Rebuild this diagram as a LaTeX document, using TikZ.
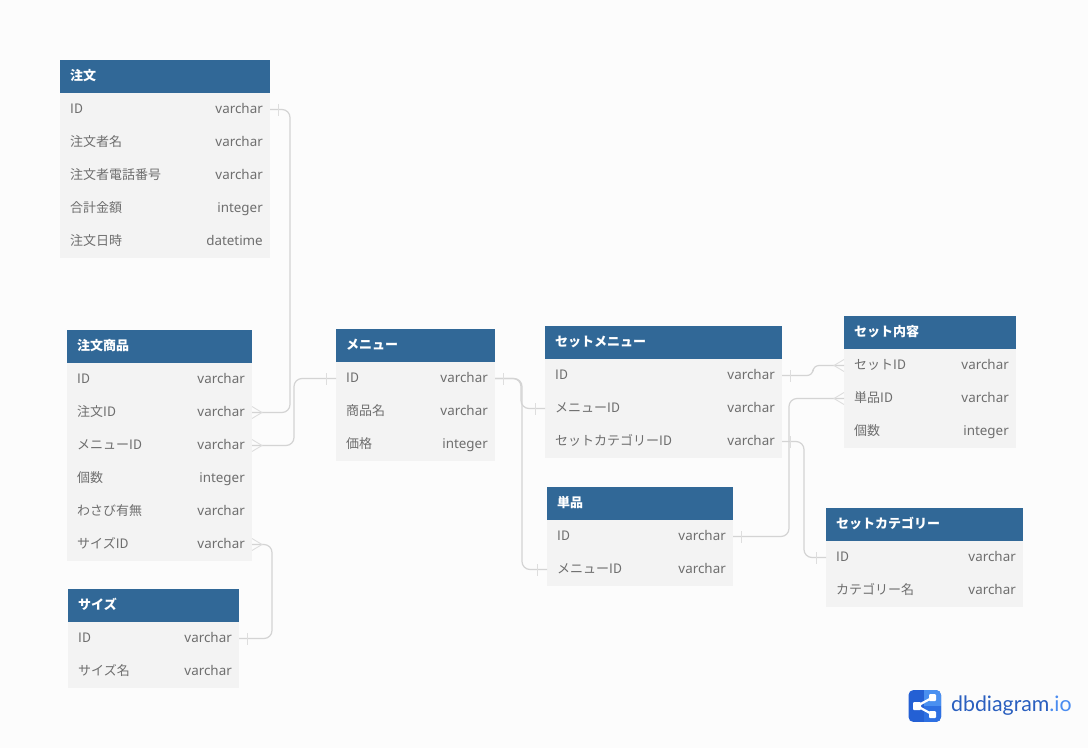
\documentclass[tikz,border=0pt]{standalone}
\usepackage{fontspec}
\setmainfont{Noto Sans CJK JP}
\newfontfamily\latinf{Noto Sans}
\newfontfamily\logof{Lato}
\usetikzlibrary{calc}
\definecolor{bgc}{HTML}{FCFCFC}
\definecolor{rowc}{HTML}{F3F3F3}
\definecolor{headc}{HTML}{316897}
\definecolor{txtc}{HTML}{6E6E6E}
\definecolor{linec}{HTML}{D4D4D4}
\definecolor{tickc}{HTML}{DEDEDE}
\definecolor{logoa}{HTML}{2460D4}
\definecolor{logob}{HTML}{4A90F0}
\definecolor{logoc}{HTML}{2E70E2}
\definecolor{logot}{HTML}{2A5FBF}
\definecolor{logou}{HTML}{4A8CF0}
\tikzset{
  hdr/.style={fill=headc,anchor=north west,minimum height=33pt,inner sep=0,outer sep=0,draw=none},
  rowbox/.style={fill=rowc,anchor=north west,minimum height=33pt,inner sep=0,outer sep=0,draw=none},
  ttl/.style={anchor=west,text=white,font=\fontsize{13}{13}\selectfont\bfseries,inner sep=0,text height=10pt,text depth=3pt},
  fname/.style={anchor=west,text=txtc,font=\fontsize{13}{13}\selectfont,inner sep=0,text height=10pt,text depth=3pt},
  ftype/.style={anchor=east,text=txtc,font=\fontsize{13.4}{14}\selectfont\latinf,inner sep=0,text height=10pt,text depth=3pt},
  conn/.style={draw=linec,line width=1.2pt,rounded corners=8pt},
  crowl/.style={draw=tickc,line width=0.9pt},
  tickl/.style={draw=tickc,line width=0.9pt},
}
% \tbl{id}{x}{y}{w}{title}{name/type list}
\newcommand{\tbl}[6]{%
  \node[hdr,minimum width=#4 pt] (#1) at (#2,#3) {};
  \node[ttl] (#1-t) at ($(#1.west)+(10,0)$) {#5};
  \foreach \nm/\ty [count=\ii] in {#6} {
    \node[rowbox,minimum width=#4 pt] (#1-\ii) at (#2,{#3+33*\ii}) {};
    \node[fname] (#1-\ii-n) at ($(#1-\ii.west)+(10,0)$) {\nm};
    \node[ftype] (#1-\ii-y) at ($(#1-\ii.east)+(-7,0)$) {\ty};
  }
}
\newcommand{\crowE}[1]{\draw[crowl] ([yshift=-6]#1.east) -- ([xshift=10]#1.east) -- ([yshift=6]#1.east);}
\newcommand{\crowW}[1]{\draw[crowl] ([yshift=-6]#1.west) -- ([xshift=-10]#1.west) -- ([yshift=6]#1.west);}
\newcommand{\tickE}[1]{\draw[tickl] ([xshift=8,yshift=-6]#1.east) -- ([xshift=8,yshift=6]#1.east);}
\newcommand{\tickW}[1]{\draw[tickl] ([xshift=-10,yshift=-6]#1.west) -- ([xshift=-10,yshift=6]#1.west);}
\begin{document}
\begin{tikzpicture}[x=1pt,y=-1pt]
\path[fill=bgc] (0,0) rectangle (1088,748);
\useasboundingbox (0,0) rectangle (1088,748);

\tbl{a}{60}{60}{210}{注文}{ID/varchar,注文者名/varchar,注文者電話番号/varchar,合計金額/integer,注文日時/datetime}
\tbl{b}{67}{330}{185}{注文商品}{ID/varchar,注文ID/varchar,メニューID/varchar,個数/integer,わさび有無/varchar,サイズID/varchar}
\tbl{c}{68}{589}{171}{サイズ}{ID/varchar,サイズ名/varchar}
\tbl{d}{336}{329}{159}{メニュー}{ID/varchar,商品名/varchar,価格/integer}
\tbl{e}{545}{326}{237}{セットメニュー}{ID/varchar,メニューID/varchar,セットカテゴリーID/varchar}
\tbl{f}{547}{487}{186}{単品}{ID/varchar,メニューID/varchar}
\tbl{g}{844}{316}{172}{セット内容}{セットID/varchar,単品ID/varchar,個数/integer}
\tbl{h}{826}{508}{197}{セットカテゴリー}{ID/varchar,カテゴリー名/varchar}

% connectors
\draw[conn] (a-1.east) -- ++(20,0) |- (b-2.east);
\draw[conn] (d-1.west) -- ++(-42,0) |- (b-3.east);
\draw[conn] (b-6.east) -- ++(20,0) |- (c-1.east);
\draw[conn] (d-1.east) -- ++(26,0) |- (e-2.west);
\draw[conn] (d-1.east) -- ++(27,0) |- (f-2.west);
\draw[conn,rounded corners=6pt] (e-1.east) -- ++(31,0) |- (g-1.west);
\draw[conn] (f-1.east) -- ++(56,0) |- (g-2.west);
\draw[conn] (e-3.east) -- ++(22,0) |- (h-1.west);

% end marks
\tickE{a-1}\crowE{b-2}
\tickW{d-1}\crowE{b-3}
\crowE{b-6}\tickE{c-1}
\tickE{d-1}\tickW{e-2}\tickW{f-2}
\tickE{e-1}\crowW{g-1}
\tickE{f-1}\crowW{g-2}
\tickE{e-3}\tickW{h-1}

% logo
\begin{scope}
\clip[rounded corners=5pt] (908.5,690) rectangle (941,722);
\fill[logoa] (908,690) rectangle (942,722);
\fill[logob] (923.5,690) rectangle (942,706);
\fill[logoc] (923.5,706) rectangle (942,722);
\end{scope}
\draw[white,line width=2.2pt] (917,706) -- (932.5,697.5) (917,706) -- (932.5,714.5);
\fill[white,rounded corners=1pt] (913,702) rectangle (921,710);
\fill[white,rounded corners=1pt] (929,694) rectangle (936,701);
\fill[white,rounded corners=1pt] (929,711) rectangle (936,718);
\node[anchor=west,inner sep=0,font=\fontsize{21.3}{21}\selectfont\logof] (logotext) at (951,705.5) {\textcolor{logot}{dbdiagram}\textcolor{logou}{.io}};
\end{tikzpicture}
\end{document}
